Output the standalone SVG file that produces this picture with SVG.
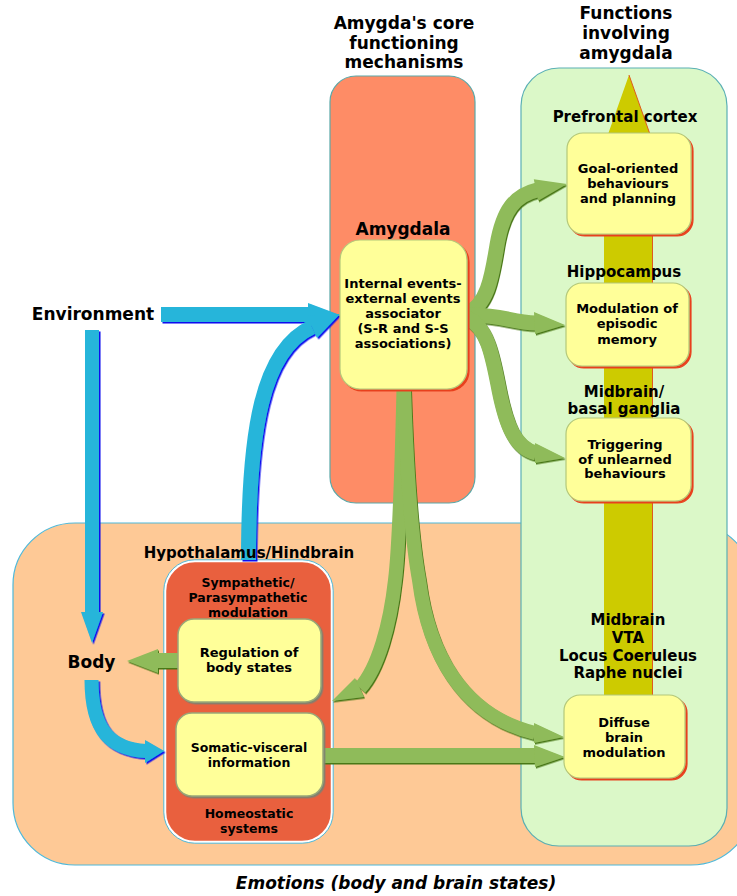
<svg xmlns="http://www.w3.org/2000/svg" width="737" height="896" viewBox="0 0 737 896">
<defs>
<style>
text{font-family:"DejaVu Sans","Verdana",sans-serif;font-weight:bold;fill:#000;text-anchor:middle}
.t17{font-size:17px}
.t15{font-size:15px}
.t13{font-size:13px}
.t12{font-size:12.5px}
.it{font-style:italic}
.box{fill:#ffff99;stroke:#b4c87a;stroke-width:1.2}
.hbox{fill:#ffff99;stroke:#9aa878;stroke-width:1.5}
.bs{fill:none;stroke:#26b5da;stroke-width:15}
.bh{fill:#26b5da}
.gs{fill:none;stroke:#8fbb5a;stroke-width:15}
.gh{fill:#8fbb5a}
</style>
<filter id="redsh" x="-10%" y="-10%" width="120%" height="120%"><feDropShadow dx="2" dy="2" stdDeviation="0" flood-color="#e8401c"/></filter>
<filter id="greysh" x="-10%" y="-10%" width="120%" height="120%"><feDropShadow dx="1.5" dy="1.5" stdDeviation="0.3" flood-color="#808070"/></filter>
<filter id="bsh" x="-10%" y="-10%" width="120%" height="120%"><feDropShadow dx="1.5" dy="1.5" stdDeviation="0" flood-color="#1010ee"/></filter>
<filter id="gsh" x="-10%" y="-10%" width="120%" height="120%"><feDropShadow dx="1" dy="1.5" stdDeviation="0" flood-color="#4a7812"/></filter>
</defs>
<rect width="737" height="896" fill="#fff"/>

<g id="emotions">
<rect x="13" y="523" width="740" height="342" rx="62" fill="#fec996" stroke="#4fb8d8" stroke-width="1.2"/>
<text class="t17 it" x="396" y="889">Emotions (body and brain states)</text>
</g>

<g id="functions">
<rect x="521" y="68" width="206" height="778" rx="38" fill="#dbf8c8" stroke="#5ab0b4" stroke-width="1.2"/>
<polygon points="629,75 669,188 652,188 652,700 604,700 604,188 589,188" fill="#cdcb00"/>
<polyline points="629,75 669,188" fill="none" stroke="#e05a20" stroke-width="1"/>
<line x1="652.5" y1="188" x2="652.5" y2="700" stroke="#e05a20" stroke-width="1"/>
<text class="t17" x="626" y="19">Functions</text>
<text class="t17" x="626" y="39">involving</text>
<text class="t17" x="626" y="59">amygdala</text>
<text class="t15" x="625" y="122">Prefrontal cortex</text>
<text class="t15" x="624" y="277">Hippocampus</text>
<text class="t15" x="624" y="397">Midbrain/</text>
<text class="t15" x="624" y="414">basal ganglia</text>
<text class="t15" x="628" y="625">Midbrain</text>
<text class="t15" x="628" y="643">VTA</text>
<text class="t15" x="628" y="661">Locus Coeruleus</text>
<text class="t15" x="628" y="678">Raphe nuclei</text>
</g>

<g id="core">
<rect x="330" y="76" width="145" height="427" rx="26" fill="#fe8c66" stroke="#5aa8a8" stroke-width="1.2"/>
<text class="t17" x="404" y="29">Amygda's core</text>
<text class="t17" x="404" y="48.5">functioning</text>
<text class="t17" x="404" y="68">mechanisms</text>
<text class="t17" x="403" y="235">Amygdala</text>
</g>

<g id="hypothalamus">
<rect x="165" y="561" width="167" height="281" rx="30" fill="#e9603e" stroke="#ffffff" stroke-width="2.5"/>
<rect x="163.8" y="559.8" width="169.4" height="283.4" rx="31" fill="none" stroke="#4fb8d8" stroke-width="1"/>
<text class="t12" x="248" y="586.5">Sympathetic/</text>
<text class="t12" x="248" y="601.5">Parasympathetic</text>
<text class="t12" x="248" y="616.5">modulation</text>
<text class="t12" x="249" y="817.5">Homeostatic</text>
<text class="t12" x="249" y="832.5">systems</text>
</g>

<g id="connectors">
<g id="blue-arrows" filter="url(#bsh)">
<path class="bs" d="M161 314.5 H309"/>
<polygon class="bh" points="308,303 340,315 308,327"/>
<path class="bs" d="M248.5 560 C248.5 430 262 350 312 327"/>
<polygon class="bh" points="307,316 340,314 317,338"/>
<path class="bs" d="M92 330 V612" style="stroke-width:14"/>
<polygon class="bh" points="81,612 103,612 92,643"/>
<path class="bs" d="M91.5 680 C91.5 730 110 749 146 751" style="stroke-width:14"/>
<polygon class="bh" points="145,740 164,751 145,763"/>
</g>
<g id="green-arrows" filter="url(#gsh)">
<path class="gs" d="M466 314 C488 305 492 275 497 245 C503 210 515 195 537 190"/>
<polygon class="gh" points="533.8,179.2 567,184 538.2,200.8"/>
<path class="gs" d="M466 315.5 C500 314 510 322 536 323"/>
<polygon class="gh" points="534,312 565,325 535,334"/>
<path class="gs" d="M466 318 C488 325 493 360 499 390 C506 425 515 448 536 453"/>
<polygon class="gh" points="535,443 565,458 535,463"/>
<path class="gs" d="M403.5 389 C402 450 400 540 395 580 C390 625 378 668 360 688" style="stroke-width:14"/>
<polygon class="gh" points="355,678 332,701 364,697"/>
<path class="gs" d="M404 389 C406 450 410 530 419 580 C428 650 460 715 535 733" style="stroke-width:14"/>
<polygon class="gh" points="534,723 564,737 534,743"/>
<path class="gs" d="M323 755.5 H535"/>
<polygon class="gh" points="534,745 565,757 535,767"/>
<path class="gs" d="M178 660.5 H157"/>
<polygon class="gh" points="158,649 127,661 158,673"/>
</g>
</g>

<g id="hypothalamus-label">
<text class="t15" x="249" y="558">Hypothalamus/Hindbrain</text>
</g>
<g id="environment">
<text class="t17" x="93" y="320">Environment</text>
</g>
<g id="body">
<text class="t17" x="91.5" y="668">Body</text>
</g>

<g id="associator">
<rect class="box" x="340" y="240" width="127" height="149" rx="20" filter="url(#redsh)"/>
<text class="t13" x="403" y="288">Internal events-</text>
<text class="t13" x="403" y="303">external events</text>
<text class="t13" x="403" y="318">associator</text>
<text class="t13" x="403" y="333">(S-R and S-S</text>
<text class="t13" x="403" y="348">associations)</text>
</g>

<g id="goal">
<rect class="box" x="567" y="133" width="124" height="101" rx="16" filter="url(#redsh)"/>
<text class="t13" x="628" y="172.5">Goal-oriented</text>
<text class="t13" x="628" y="187.5">behaviours</text>
<text class="t13" x="628" y="202.5">and planning</text>
</g>

<g id="episodic">
<rect class="box" x="566" y="283" width="123" height="83" rx="16" filter="url(#redsh)"/>
<text class="t13" x="627" y="312.5">Modulation of</text>
<text class="t13" x="627" y="328">episodic</text>
<text class="t13" x="627" y="343.5">memory</text>
</g>

<g id="triggering">
<rect class="box" x="566" y="418" width="125" height="83" rx="16" filter="url(#redsh)"/>
<text class="t13" x="625" y="448.5">Triggering</text>
<text class="t13" x="625" y="463.5">of unlearned</text>
<text class="t13" x="625" y="478">behaviours</text>
</g>

<g id="diffuse">
<rect class="box" x="564" y="695" width="121" height="83" rx="16" filter="url(#redsh)"/>
<text class="t13" x="624" y="726.5">Diffuse</text>
<text class="t13" x="624" y="741.5">brain</text>
<text class="t13" x="624" y="756.5">modulation</text>
</g>

<g id="regulation">
<rect class="hbox" x="178" y="619" width="143" height="83" rx="16" filter="url(#greysh)"/>
<text class="t13" x="249" y="656.5">Regulation of</text>
<text class="t13" x="249" y="672">body states</text>
</g>

<g id="somatic">
<rect class="hbox" x="176" y="713" width="147" height="83" rx="16" filter="url(#greysh)"/>
<text class="t12" x="249" y="751.5">Somatic-visceral</text>
<text class="t12" x="249" y="766.5">information</text>
</g>
</svg>
